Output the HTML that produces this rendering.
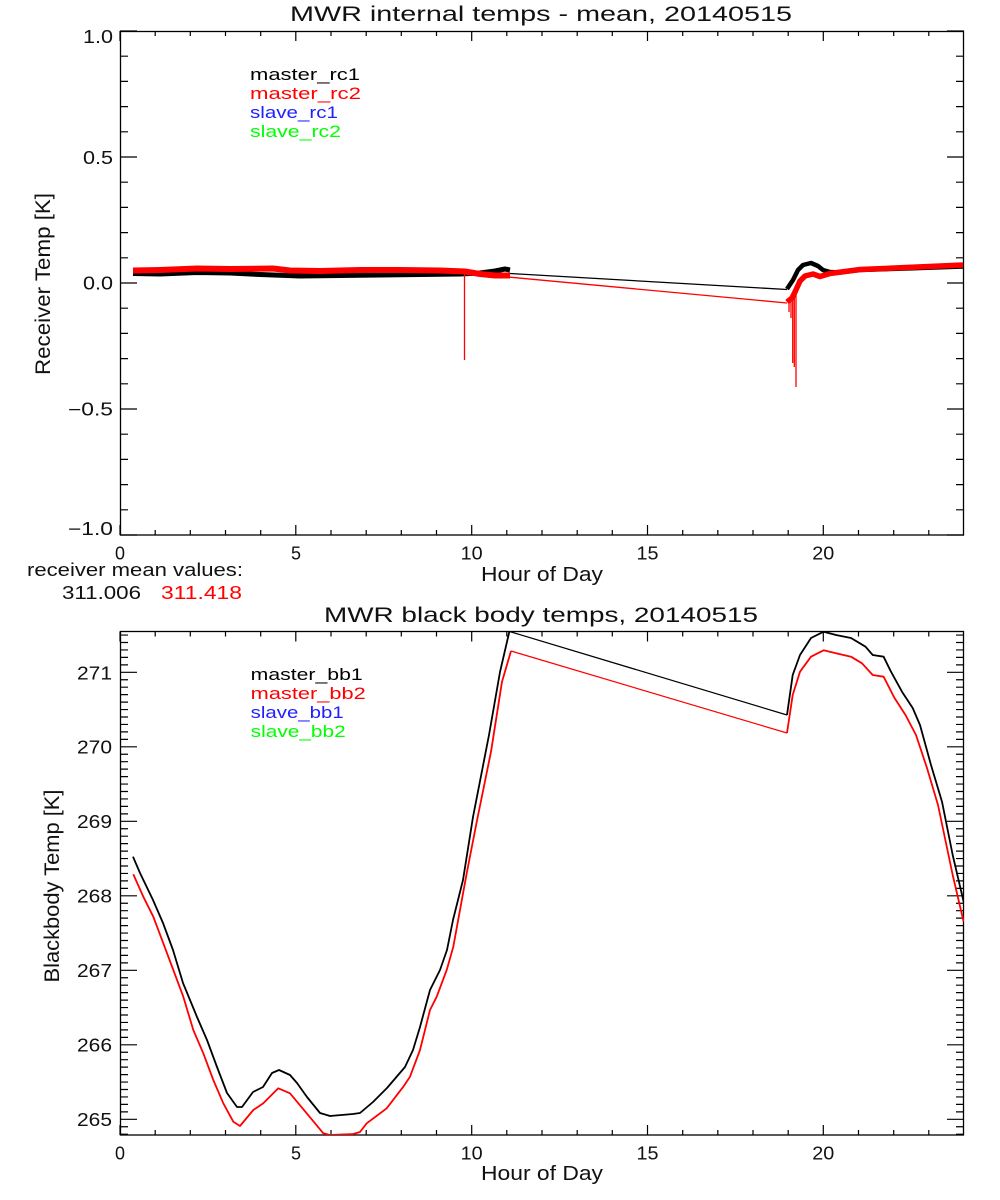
<!DOCTYPE html>
<html><head><meta charset="utf-8"><style>
html,body{margin:0;padding:0;background:#fff;}
svg{display:block;}
text{font-family:"Liberation Sans",sans-serif;}
</style></head><body>
<svg width="1000" height="1200" viewBox="0 0 1000 1200" xmlns="http://www.w3.org/2000/svg">
<rect width="1000" height="1200" fill="#fff"/>
<defs>
<clipPath id="c1"><rect x="120" y="31" width="844" height="504"/></clipPath>
<clipPath id="c2"><rect x="120" y="631" width="844" height="504"/></clipPath>
<path id="xt" d="M120,0v-10 M155.2,0v-5 M190.3,0v-5 M225.5,0v-5 M260.7,0v-5 M295.8,0v-10 M331,0v-5 M366.2,0v-5 M401.3,0v-5 M436.5,0v-5 M471.7,0v-10 M506.8,0v-5 M542,0v-5 M577.2,0v-5 M612.3,0v-5 M647.5,0v-10 M682.7,0v-5 M717.8,0v-5 M753,0v-5 M788.2,0v-5 M823.3,0v-10 M858.5,0v-5 M893.7,0v-5 M928.8,0v-5" stroke="#000" stroke-width="1.2" fill="none"/>
<path id="yt1" d="M0,31h17 M0,56.2h8 M0,81.4h8 M0,106.6h8 M0,131.8h8 M0,157h17 M0,182.2h8 M0,207.4h8 M0,232.6h8 M0,257.8h8 M0,283h17 M0,308.2h8 M0,333.4h8 M0,358.6h8 M0,383.8h8 M0,409h17 M0,434.2h8 M0,459.4h8 M0,484.6h8 M0,509.8h8 M0,535h17" stroke="#000" stroke-width="1.2" fill="none"/>
<path id="yt2" d="M0,635.05h8 M0,642.5h8 M0,649.95h8 M0,657.4h8 M0,664.85h8 M0,672.3h17 M0,679.75h8 M0,687.2h8 M0,694.65h8 M0,702.1h8 M0,709.55h8 M0,717h8 M0,724.45h8 M0,731.9h8 M0,739.35h8 M0,746.8h17 M0,754.25h8 M0,761.7h8 M0,769.15h8 M0,776.6h8 M0,784.05h8 M0,791.5h8 M0,798.95h8 M0,806.4h8 M0,813.85h8 M0,821.3h17 M0,828.75h8 M0,836.2h8 M0,843.65h8 M0,851.1h8 M0,858.55h8 M0,866h8 M0,873.45h8 M0,880.9h8 M0,888.35h8 M0,895.8h17 M0,903.25h8 M0,910.7h8 M0,918.15h8 M0,925.6h8 M0,933.05h8 M0,940.5h8 M0,947.95h8 M0,955.4h8 M0,962.85h8 M0,970.3h17 M0,977.75h8 M0,985.2h8 M0,992.65h8 M0,1000.1h8 M0,1007.55h8 M0,1015h8 M0,1022.45h8 M0,1029.9h8 M0,1037.35h8 M0,1044.8h17 M0,1052.25h8 M0,1059.7h8 M0,1067.15h8 M0,1074.6h8 M0,1082.05h8 M0,1089.5h8 M0,1096.95h8 M0,1104.4h8 M0,1111.85h8 M0,1119.3h17 M0,1126.75h8 M0,1134.2h8" stroke="#000" stroke-width="1.2" fill="none"/>
</defs>

<!-- ===== TOP PLOT ===== -->
<text x="290" y="21" font-size="21" textLength="502" lengthAdjust="spacingAndGlyphs" fill="#111">MWR internal temps - mean, 20140515</text>
<rect x="120.5" y="31.5" width="843" height="503.5" fill="none" stroke="#000" stroke-width="1.3"/>
<use href="#xt" transform="translate(0,535)"/>
<use href="#xt" transform="translate(0,31) scale(1,-1)"/>
<use href="#yt1" transform="translate(120,0)"/>
<use href="#yt1" transform="translate(964,0) scale(-1,1)"/>

<g fill="#111">
<text x="83" y="43" font-size="18" textLength="30" lengthAdjust="spacingAndGlyphs">1.0</text>
<text x="83" y="164" font-size="18" textLength="30" lengthAdjust="spacingAndGlyphs">0.5</text>
<text x="83" y="289.5" font-size="18" textLength="30" lengthAdjust="spacingAndGlyphs">0.0</text>
<text x="68" y="415.5" font-size="18" textLength="45" lengthAdjust="spacingAndGlyphs">−0.5</text>
<text x="68" y="535" font-size="18" textLength="45" lengthAdjust="spacingAndGlyphs">−1.0</text>

<text x="115" y="559.3" font-size="18" textLength="10" lengthAdjust="spacingAndGlyphs">0</text>
<text x="291" y="559.3" font-size="18" textLength="10" lengthAdjust="spacingAndGlyphs">5</text>
<text x="460.7" y="559.3" font-size="18" textLength="22" lengthAdjust="spacingAndGlyphs">10</text>
<text x="636.5" y="559.3" font-size="18" textLength="22" lengthAdjust="spacingAndGlyphs">15</text>
<text x="812.3" y="559.3" font-size="18" textLength="22" lengthAdjust="spacingAndGlyphs">20</text>

<text x="481" y="581" font-size="20" textLength="122" lengthAdjust="spacingAndGlyphs">Hour of Day</text>
<text transform="translate(50,284) rotate(-90)" x="-91" y="0" font-size="21" textLength="182" lengthAdjust="spacingAndGlyphs">Receiver Temp [K]</text>
</g>

<text x="250" y="80" font-size="17" textLength="110" lengthAdjust="spacingAndGlyphs" fill="#000">master_rc1</text>
<text x="250" y="99" font-size="17" textLength="111" lengthAdjust="spacingAndGlyphs" fill="#ff0000">master_rc2</text>
<text x="250" y="118" font-size="17" textLength="88" lengthAdjust="spacingAndGlyphs" fill="#2020ff">slave_rc1</text>
<text x="250" y="137" font-size="17" textLength="91" lengthAdjust="spacingAndGlyphs" fill="#00ff00">slave_rc2</text>

<g clip-path="url(#c1)" fill="none" stroke-linejoin="round">
  <!-- black band -->
  <path d="M133,273.5 L160,274 L197,272.5 L230,273 L260,274.5 L300,276 L340,275.5 L380,275 L420,274.5 L460,274 L480,273 L495,271 L505,269 L510,270" stroke="#000" stroke-width="5"/>
  <path d="M510,273.5 L787,289.5" stroke="#000" stroke-width="1.3"/>
  <path d="M787,289 L793,280 L798,270 L803,265 L811,263 L818,266 L823,270 L830,272 L840,272.5 L860,270 L906,268.5 L963,266.5" stroke="#000" stroke-width="4.5"/>
  <!-- red band -->
  <path d="M133,270.5 L160,270 L197,268.5 L230,269 L273,268.5 L290,270.5 L320,271 L360,270 L400,270 L440,270.5 L465,271.5 L480,274 L495,275.5 L510,275.5" stroke="#ff0000" stroke-width="6"/>
  <path d="M464.5,272 L464.5,360" stroke="#ff0000" stroke-width="1.3"/>
  <path d="M510,277.2 L787,303" stroke="#ff0000" stroke-width="1.3"/>
  <path d="M787,302 L792,298 L795,292 L800,281 L805,276 L813,274 L820,276.5 L830,273.5 L860,269.5 L906,267.5 L963,265" stroke="#ff0000" stroke-width="5.5"/>
  <path d="M789,298 L789,312 M791,296 L791,318 M792.7,295 L792.7,363 M794.3,295 L794.3,367 M796,290 L796,387" stroke="#ff0000" stroke-width="1.3"/>
</g>

<text x="27" y="576" font-size="18" textLength="216" lengthAdjust="spacingAndGlyphs" fill="#111">receiver mean values:</text>
<text x="62" y="599" font-size="18" textLength="79" lengthAdjust="spacingAndGlyphs" fill="#111">311.006</text>
<text x="161" y="599" font-size="18" textLength="81" lengthAdjust="spacingAndGlyphs" fill="#ff0000">311.418</text>

<!-- ===== BOTTOM PLOT ===== -->
<text x="324" y="622" font-size="21" textLength="434" lengthAdjust="spacingAndGlyphs" fill="#111">MWR black body temps, 20140515</text>
<rect x="120.5" y="631.5" width="843" height="503.5" fill="none" stroke="#000" stroke-width="1.3"/>
<use href="#xt" transform="translate(0,1135)"/>
<use href="#xt" transform="translate(0,631.5) scale(1,-1)"/>
<use href="#yt2" transform="translate(120,0)"/>
<use href="#yt2" transform="translate(964,0) scale(-1,1)"/>

<g fill="#111">
<text x="77" y="679.3" font-size="18" textLength="35" lengthAdjust="spacingAndGlyphs">271</text>
<text x="77" y="753.5" font-size="18" textLength="35" lengthAdjust="spacingAndGlyphs">270</text>
<text x="77" y="828" font-size="18" textLength="35" lengthAdjust="spacingAndGlyphs">269</text>
<text x="77" y="902.3" font-size="18" textLength="35" lengthAdjust="spacingAndGlyphs">268</text>
<text x="77" y="976.8" font-size="18" textLength="35" lengthAdjust="spacingAndGlyphs">267</text>
<text x="77" y="1051.3" font-size="18" textLength="35" lengthAdjust="spacingAndGlyphs">266</text>
<text x="77" y="1125.8" font-size="18" textLength="35" lengthAdjust="spacingAndGlyphs">265</text>

<text x="115" y="1159.3" font-size="18" textLength="10" lengthAdjust="spacingAndGlyphs">0</text>
<text x="291" y="1159.3" font-size="18" textLength="10" lengthAdjust="spacingAndGlyphs">5</text>
<text x="460.7" y="1159.3" font-size="18" textLength="22" lengthAdjust="spacingAndGlyphs">10</text>
<text x="636.5" y="1159.3" font-size="18" textLength="22" lengthAdjust="spacingAndGlyphs">15</text>
<text x="812.3" y="1159.3" font-size="18" textLength="22" lengthAdjust="spacingAndGlyphs">20</text>

<text x="481" y="1180" font-size="20" textLength="122" lengthAdjust="spacingAndGlyphs">Hour of Day</text>
<text transform="translate(59,886) rotate(-90)" x="-96.5" y="0" font-size="21" textLength="193" lengthAdjust="spacingAndGlyphs">Blackbody Temp [K]</text>
</g>

<text x="250.7" y="680" font-size="17" textLength="112" lengthAdjust="spacingAndGlyphs" fill="#000">master_bb1</text>
<text x="250.7" y="699" font-size="17" textLength="115" lengthAdjust="spacingAndGlyphs" fill="#ff0000">master_bb2</text>
<text x="250.7" y="718" font-size="17" textLength="93" lengthAdjust="spacingAndGlyphs" fill="#2020ff">slave_bb1</text>
<text x="250.7" y="737" font-size="17" textLength="95" lengthAdjust="spacingAndGlyphs" fill="#00ff00">slave_bb2</text>

<g clip-path="url(#c2)" fill="none" stroke-linejoin="round">
  <path d="M133,856.7 L140,873 L153,900 L163,923 L173,950 L183,983 L197,1017 L207,1040 L217,1067 L227,1093 L237,1107 L242,1107 L253,1092 L263,1087 L272,1073 L279,1070 L290,1075 L297,1083 L307,1097 L320,1113 L330,1116 L353,1114 L360,1113 L373,1102 L387,1088 L405,1067 L413,1050 L420,1027 L430,990 L440,970 L447,950 L453,920 L463,880 L473,817 L489,735 L500,672 L509.5,631" stroke="#000" stroke-width="1.8"/>
  <path d="M509.5,631.5 L787,715" stroke="#000" stroke-width="1.2"/>
  <path d="M787,715 L792.7,675 L800,655 L811,638 L823.6,631.7 L836,635 L851,638 L865.5,646.7 L872.7,655 L883.6,656.7 L891,671.7 L902,691.7 L912.7,708 L920,725 L931,765 L942,801.7 L952.7,855 L963.6,901.7" stroke="#000" stroke-width="1.8"/>
  <path d="M133.3,874.3 L143.3,896.7 L153.3,916.7 L163.3,943.3 L173.3,970 L183.3,996.7 L193.3,1030 L203.3,1053.3 L213.3,1080 L223.3,1103.3 L233.3,1121.7 L240,1126 L253.3,1110 L263.3,1103.3 L278.3,1088.3 L290,1093.3 L306.7,1113.3 L323.3,1133.3 L330,1135 L353.3,1134 L360,1132 L366.7,1123.3 L386.7,1108.3 L403.3,1086.7 L410,1076.7 L420,1050 L430,1010 L436.7,996.7 L446.7,970 L453.3,946.7 L466.7,873.3 L476.7,822 L491,751.7 L502,681.7 L511,651" stroke="#ff0000" stroke-width="1.8"/>
  <path d="M511,651 L787,733" stroke="#ff0000" stroke-width="1.2"/>
  <path d="M787,733 L792.7,695 L800,671.7 L811,656.7 L823.6,650.3 L836,653.3 L851,656.7 L862,663.3 L872.7,675 L883.6,676.7 L894.5,698 L905.5,715 L916,735 L927,768 L938,805 L952.7,875 L963.6,921.7" stroke="#ff0000" stroke-width="1.8"/>
</g>
</svg>
</body></html>
